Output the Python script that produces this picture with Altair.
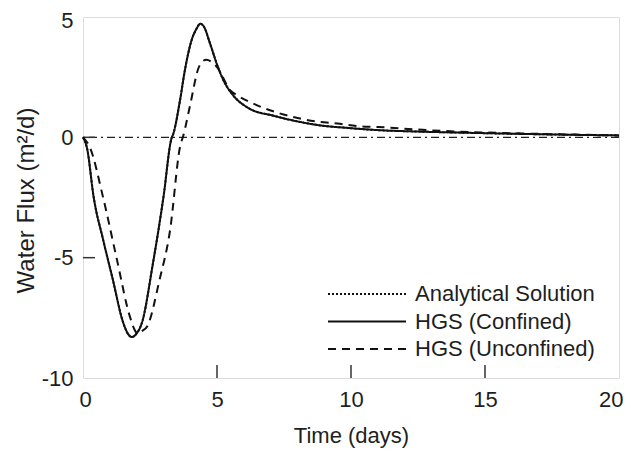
import altair as alt
import pandas as pd

# Confined (HGS) and analytical solution (nearly identical)
t_conf = [0, 0.15, 0.4, 0.75, 1.1, 1.5, 1.7, 1.82, 2.0, 2.2, 2.6, 3.0, 3.3, 3.37, 3.62, 3.8,
          4.05, 4.24, 4.37, 4.5, 4.74, 4.99, 5.25, 5.6, 6.2, 7.1, 8.1, 8.7, 10, 11, 12.5,
          14.3, 16, 18, 20]
y_conf = [0, -0.45, -2.5, -4.25, -5.85, -7.7, -8.2, -8.3, -8.15, -7.7, -5.3, -2.5, -0.05, 0.15,
          1.54, 2.78, 4.03, 4.52, 4.72, 4.62, 3.9, 3.06, 2.35, 1.75, 1.2, 0.9, 0.64, 0.52,
          0.38, 0.3, 0.24, 0.19, 0.15, 0.11, 0.08]
t_ana = t_conf
y_ana = y_conf

# Unconfined (HGS)
t_unc = [0, 0.25, 0.75, 1.25, 1.75, 1.95, 2.05, 2.2, 2.4, 2.85, 3.25, 3.62, 3.75, 4.0, 4.3,
         4.45, 4.6, 4.8, 5.0, 5.5, 5.75, 6.5, 7.3, 8.1, 8.7, 9.5, 10.2, 11, 13, 15, 16.8, 20]
y_unc = [0, -0.4, -2.5, -5.0, -7.45, -8.05, -8.15, -8.05, -7.85, -5.95, -3.85, -0.4, 0.1,
         1.35, 2.85, 3.15, 3.22, 3.13, 2.92, 1.95, 1.75, 1.33, 1.01, 0.78, 0.66, 0.57, 0.47,
         0.43, 0.29, 0.2, 0.15, 0.08]

series_names = ["Analytical Solution", "HGS (Confined)", "HGS (Unconfined)"]
x_ticks = [0, 5, 10, 15, 20]
y_ticks = [-10, -5, 0, 5]
x_inner_ticks = [5, 10, 15]
y_inner_ticks = [-5, 0]

rows = []
for name, ts, ys in [(series_names[1], t_conf, y_conf),
                     (series_names[0], t_ana, y_ana),
                     (series_names[2], t_unc, y_unc)]:
    for i, (t, y) in enumerate(zip(ts, ys)):
        rows.append({"t": t, "flux": y, "series": name, "order": i})
df = pd.DataFrame(rows)

FONT = "Liberation Sans"
TXT = "#1e1e1e"

xscale = alt.Scale(domain=[0, 20], nice=False, zero=False)
yscale = alt.Scale(domain=[-10, 5], nice=False, zero=False)

lines = alt.Chart(df).mark_line(strokeWidth=2, color="#111", interpolate="monotone").encode(
    x=alt.X("t:Q", scale=xscale,
            axis=alt.Axis(values=x_ticks, ticks=False, domain=False, grid=False,
                          labelFontSize=22, labelFont=FONT, labelColor=TXT,
                          labelPadding=11, labelExpr="'' + datum.value",
                          labelFlush=True, labelFlushOffset=4,
                          title="Time (days)", titleFont=FONT, titleFontSize=22,
                          titleFontWeight="normal", titleColor=TXT,
                          titleBaseline="alphabetic", titleY=64)),
    y=alt.Y("flux:Q", scale=yscale,
            axis=alt.Axis(values=y_ticks, ticks=False, domain=False, grid=False,
                          labelFontSize=22, labelFont=FONT, labelColor=TXT,
                          labelPadding=10, labelExpr="'' + datum.value",
                          labelFlush=False,
                          labelOffset={"condition": {"test": "datum.value == 5", "value": 3},
                                       "value": 0},
                          title="Water Flux (m²/d)", titleFont=FONT, titleFontSize=24,
                          titleFontWeight="normal", titleColor=TXT,
                          titleBaseline="alphabetic", titleX=-50, titleY=183)),
    strokeDash=alt.StrokeDash(
        "series:N",
        scale=alt.Scale(domain=series_names, range=[[2, 2], [1, 0], [8, 6]]),
        legend=alt.Legend(
            title=None, orient="none", legendX=245, legendY=266,
            symbolType="M-4,0H4", symbolSize=380, symbolStrokeWidth=2,
            symbolStrokeColor="#111", symbolOffset=28, labelOffset=37,
            rowPadding=5.5, padding=0, labelFont=FONT, labelFontSize=22,
            labelColor=TXT, labelLimit=400)),
    detail="series:N",
    order="order:Q",
)

zero = alt.Chart(pd.DataFrame({"y": [0]})).mark_rule(
    strokeDash=[8, 4, 2, 4], strokeWidth=1.2, color="#222").encode(
    y=alt.Y("y:Q", scale=yscale))

xt = alt.Chart(pd.DataFrame({"x": x_inner_ticks})).mark_rule(
    strokeWidth=1.5, color="#333").encode(
    x=alt.X("x:Q", scale=xscale), y=alt.value(361), y2=alt.value(348))

yt = alt.Chart(pd.DataFrame({"y": y_inner_ticks})).mark_rule(
    strokeWidth=1.5, color="#333").encode(
    y=alt.Y("y:Q", scale=yscale), x=alt.value(0), x2=alt.value(12))

chart = alt.layer(zero, xt, yt, lines).properties(
    width=536, height=361,
    autosize=alt.AutoSizeParams(type="none"),
    padding={"left": 75, "top": 9, "right": 5, "bottom": 70},
).configure_view(stroke="#333", strokeWidth=2).configure(background="white")

chart.save("out.html", embed_options={"renderer": "svg", "actions": False})
